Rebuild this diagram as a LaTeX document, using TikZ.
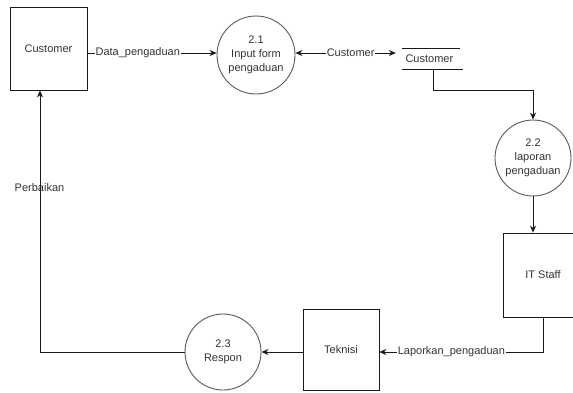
\documentclass[tikz,border=0pt]{standalone}
\usepackage{fontspec}
\setmainfont{Liberation Sans}
\usetikzlibrary{arrows.meta}
\definecolor{ink}{HTML}{333333}
\definecolor{edge}{HTML}{1A1A1A}
\definecolor{rim}{HTML}{5A5A5A}
\begin{document}
\begin{tikzpicture}[x=1pt,y=-1pt,
  every node/.style={font=\fontsize{11}{14}\selectfont, text=ink},
  entity/.style={draw=edge, line width=0.8pt, rectangle, inner sep=0pt},
  proc/.style={draw=rim, line width=0.9pt, circle, inner sep=0pt, align=center},
  flow/.style={draw=edge, line width=0.8pt, -{Stealth[length=7pt,width=6pt]}},
  lbl/.style={fill=white, inner sep=1pt}]
  \useasboundingbox (0,0) rectangle (573,392);

  % external entities and processes
  \node[entity, minimum width=77, minimum height=83] (cust) at (48.5,48.5) {Customer};
  \node[proc, minimum size=78] (p21) at (256,55) {2.1\\Input form\\pengaduan};
  \node[inner sep=0pt, minimum width=67, minimum height=20] (store) at (429.5,59) {};
  \node[anchor=west] at (402,59) {Customer};
  \node[proc, minimum size=76] (p22) at (533,158) {2.2\\laporan\\pengaduan};
  \node[entity, minimum width=80, minimum height=84] (it) at (543,275) {IT Staff};
  \node[entity, minimum width=76, minimum height=81] (tek) at (341,350) {Teknisi};
  \node[proc, minimum size=76] (p23) at (223,352) {2.3\\Respon};

  % data store: open rectangle, top and bottom lines only
  \draw[edge, line width=0.8pt] ([xshift=6]store.north west) -- ([xshift=-3]store.north east);
  \draw[edge, line width=0.8pt] ([xshift=6]store.south west) -- (store.south east);

  % data flows
  \draw[flow] (cust.east |- 0,53) -- (p21.west |- 0,53)
    node[lbl, pos=0.39] {Data\_pengaduan};
  \draw[draw=edge, line width=0.8pt, {Stealth[length=7pt,width=6pt]}-{Stealth[length=7pt,width=6pt]}]
    (p21.east |- 0,53) -- (store.west |- 0,53)
    node[lbl, pos=0.55] {Customer};
  \draw[flow] ([xshift=3.5]store.south) -- ++(0,21) -| (p22.north);
  \draw[flow] (p22.south) -- (p22.south |- it.north);
  \draw[flow] (it.south) |- (tek.east |- 0,352)
    node[lbl, pos=0.78] {Laporkan\_pengaduan};
  \draw[flow] (tek.west |- 0,352) -- (p23.east);
  \draw[flow] (p23.west) -| ([xshift=-8.5]cust.south);
  \node at (39.5,188) {Perbaikan};
\end{tikzpicture}
\end{document}
